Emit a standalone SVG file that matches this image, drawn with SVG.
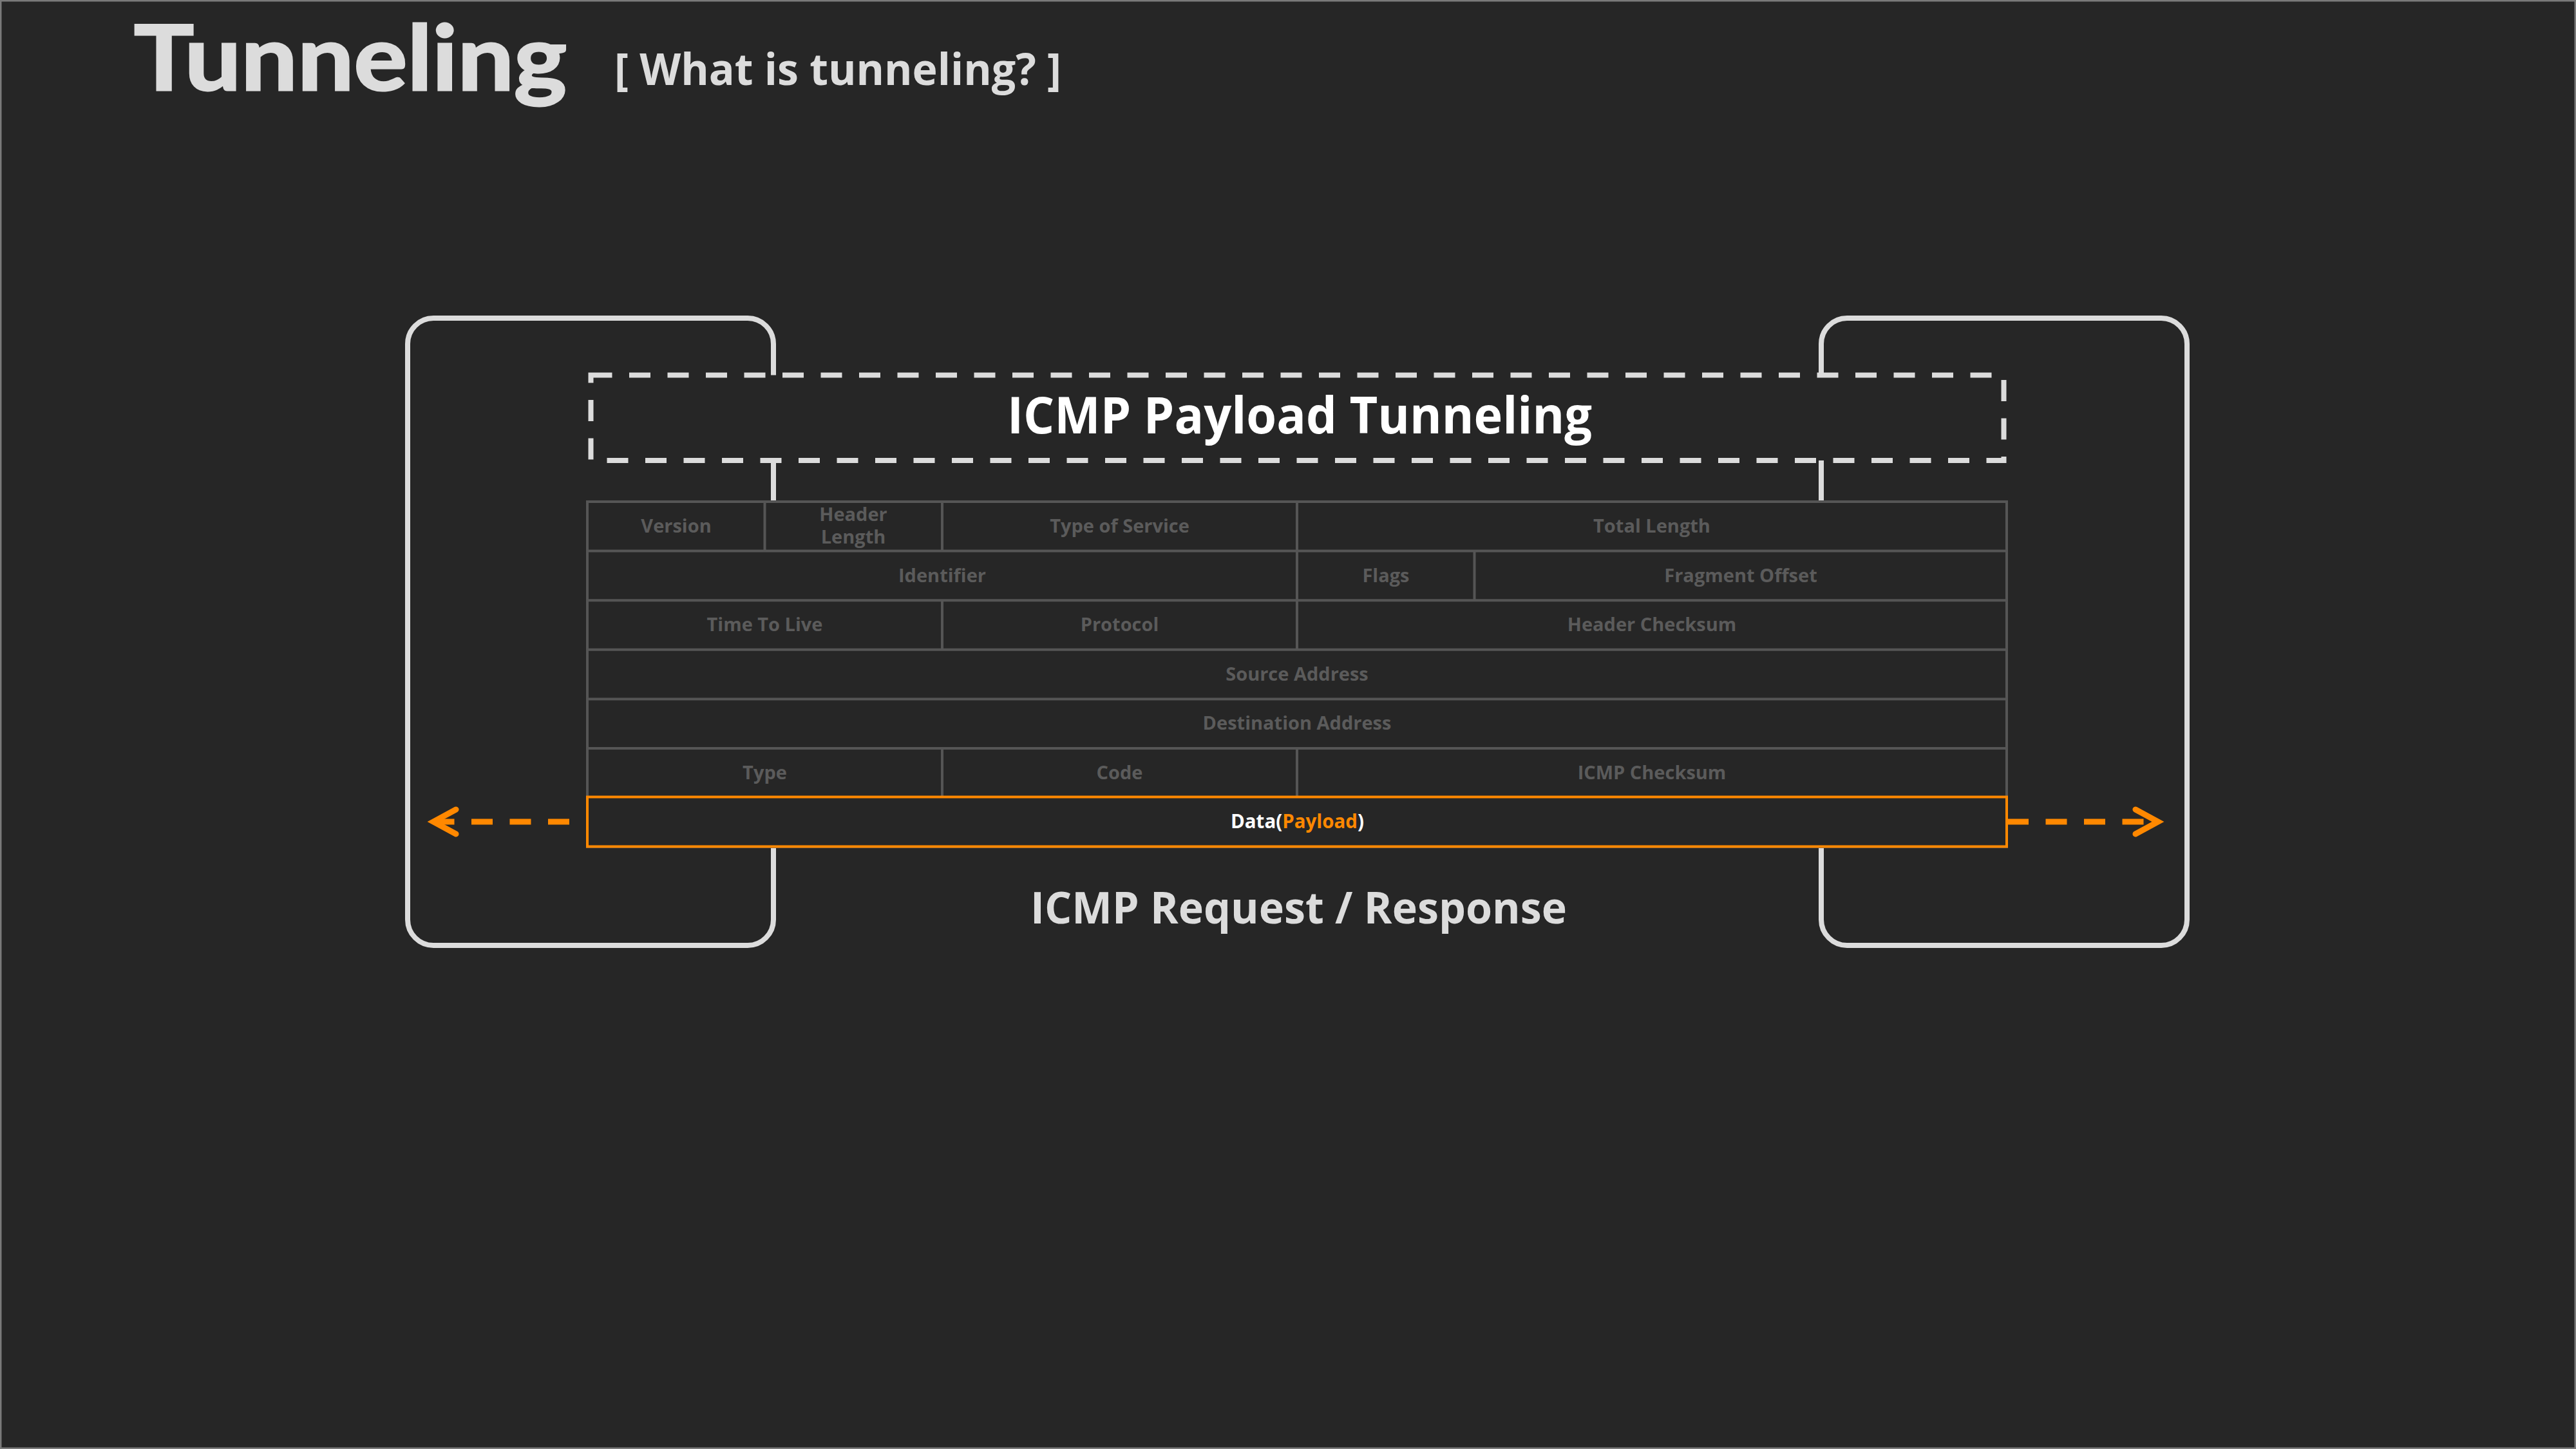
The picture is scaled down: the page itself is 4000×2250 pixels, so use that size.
<svg xmlns="http://www.w3.org/2000/svg" width="4000" height="2250" viewBox="0 0 4000 2250">
  <style>
    .txt { font-family: "Open Sans", Lato, "Noto Sans", "Liberation Sans", sans-serif; font-weight: 700; }
    .light { fill: #dcdcdc; }
    .cell { font-size: 29px; fill: #5b5b5b; text-anchor: middle; }
    .host { fill: none; stroke: #dcdcdc; stroke-width: 8; }
    .grid { stroke: #555555; stroke-width: 4; fill: none; }
    .flow { stroke: #ff8800; stroke-width: 9; stroke-dasharray: 33 26.5; fill: none; }
  </style>
  <defs>
    <marker id="chevron" markerUnits="userSpaceOnUse" viewBox="-50 -30 60 60" refX="0" refY="0" markerWidth="60" markerHeight="60" orient="auto" overflow="visible">
      <path d="M -35 -19 L 0 0 L -35 19" fill="none" stroke="#ff8800" stroke-width="9" stroke-linecap="round" stroke-linejoin="miter"/>
    </marker>
  </defs>

  <rect x="0" y="0" width="4000" height="2250" fill="#262626"/>
  <rect x="1" y="1" width="3998" height="2248" fill="none" stroke="#7a7a7a" stroke-width="3"/>

  <g id="title">
    <text x="208" y="140" font-family="Lato, 'Noto Sans', sans-serif" font-weight="700" font-size="140" fill="#dcdcdc" stroke="#dcdcdc" stroke-width="3" textLength="672" lengthAdjust="spacingAndGlyphs">Tunneling</text>
    <text class="txt light" x="954" y="132" font-size="68" textLength="694" lengthAdjust="spacingAndGlyphs">[ What is tunneling? ]</text>
  </g>

  <g id="left-host">
    <rect class="host" x="633" y="494" width="568" height="974" rx="40" ry="40"/>
  </g>
  <g id="right-host">
    <rect class="host" x="2828" y="494" width="568" height="974" rx="40" ry="40"/>
  </g>

  <g id="tunnel-label">
    <rect x="917.5" y="582.5" width="2194" height="132.5" fill="#262626" stroke="#dcdcdc" stroke-width="8" stroke-dasharray="33 26.5"/>
    <text class="txt" x="2018" y="673" font-size="78" fill="#ffffff" text-anchor="middle" textLength="908" lengthAdjust="spacingAndGlyphs">ICMP Payload Tunneling</text>
  </g>

  <g id="ip-icmp-table">
    <rect class="grid" x="912" y="779" width="2204" height="536" style="fill:#262626"/>
    <path class="grid" d="M912 855.6 H3116 M912 932.2 H3116 M912 1008.8 H3116 M912 1085.4 H3116 M912 1162 H3116 M912 1238.6 H3116
      M1187.5 779 V855.6 M1463 779 V855.6 M2014 779 V855.6
      M2014 855.6 V932.2 M2289.5 855.6 V932.2
      M1463 932.2 V1008.8 M2014 932.2 V1008.8
      M1463 1162 V1238.6 M2014 1162 V1238.6"/>
    <g class="txt">
      <text class="cell" x="1050" y="827">Version</text>
      <text class="cell" x="1325" y="809">Header</text>
      <text class="cell" x="1325" y="844">Length</text>
      <text class="cell" x="1738.5" y="827">Type of Service</text>
      <text class="cell" x="2565" y="827">Total Length</text>
      <text class="cell" x="1463" y="903.6">Identifier</text>
      <text class="cell" x="2152" y="903.6">Flags</text>
      <text class="cell" x="2703" y="903.6">Fragment Offset</text>
      <text class="cell" x="1187.5" y="980.2">Time To Live</text>
      <text class="cell" x="1738.5" y="980.2">Protocol</text>
      <text class="cell" x="2565" y="980.2">Header Checksum</text>
      <text class="cell" x="2014" y="1056.8">Source Address</text>
      <text class="cell" x="2014" y="1133.4">Destination Address</text>
      <text class="cell" x="1187.5" y="1210">Type</text>
      <text class="cell" x="1738.5" y="1210">Code</text>
      <text class="cell" x="2565" y="1210">ICMP Checksum</text>
    </g>
  </g>

  <g id="data-payload">
    <rect x="912" y="1237.5" width="2204" height="77" fill="#262626" stroke="#ff8800" stroke-width="4"/>
    <text class="txt" x="2014.5" y="1286" font-size="30" text-anchor="middle" fill="#ffffff" textLength="207" lengthAdjust="spacingAndGlyphs">Data(<tspan fill="#ff8800">Payload</tspan>)</text>
  </g>

  <g id="connectors">
    <line class="flow" x1="884" y1="1276" x2="673" y2="1276" marker-end="url(#chevron)"/>
    <line class="flow" x1="3117" y1="1276" x2="3351" y2="1276" marker-end="url(#chevron)"/>
  </g>

  <g id="caption">
    <text class="txt light" x="2016.5" y="1434" font-size="68" text-anchor="middle" textLength="833" lengthAdjust="spacingAndGlyphs">ICMP Request / Response</text>
  </g>
</svg>
